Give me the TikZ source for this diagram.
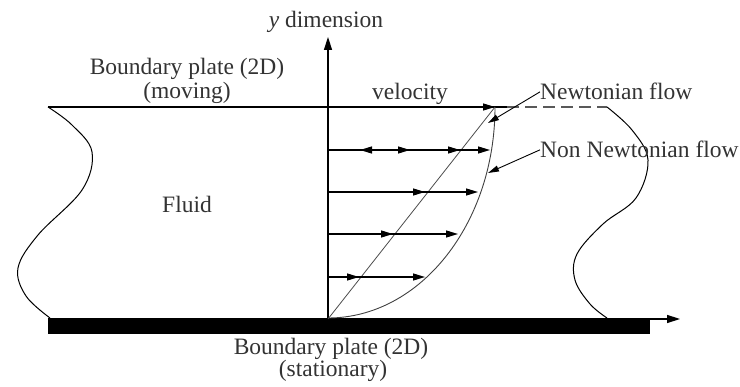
\documentclass[tikz,border=0pt]{standalone}
\usepackage{fontspec}
\setmainfont{Liberation Serif}
\usetikzlibrary{arrows.meta}
\begin{document}
\begin{tikzpicture}[x=1pt,y=-1pt,
  txt/.style={inner sep=0pt,text=black!80,font=\fontsize{23.5}{27}\selectfont},
  axis/.style={line width=1.5pt,-{Triangle[length=13pt,width=8pt]}},
  vel/.style={line width=1.3pt,-{Triangle[length=12pt,width=7pt]}},
  wavy/.style={line width=1pt},
  pointer/.style={line width=0.9pt,-{Triangle[length=11pt,width=6pt]}}]
\useasboundingbox (0,0) rectangle (740,387);
% coordinates
\coordinate (O) at (328,319);
\coordinate (Ytop) at (328,37);
\coordinate (TL) at (48,107);
\coordinate (TA) at (328,107);
\coordinate (Ttip) at (495,107);
\coordinate (Tend) at (507,107);
\coordinate (Dend) at (607,107);
\coordinate (Xtip) at (680,319);
% bottom plate
\fill[black] (48,318) rectangle (650,334);
\draw[axis] (48,319) -- (Xtip);
% y axis
\draw[axis] (O) -- (Ytop);
% top plate
\draw[line width=1.5pt] (TL) -- (Tend);
\draw[vel] (TA) -- (Ttip);
\draw[line width=1.1pt,black!65,dash pattern=on 12pt off 6pt] (Tend) -- (Dend);
% left wavy boundary
\draw[wavy] plot[smooth,tension=0.6] coordinates {(48,107) (72,125) (92,152) (82,190) (38,235) (18,268) (26,296) (50,318)};
% right wavy boundary
\draw[wavy] plot[smooth,tension=0.6] coordinates {(607,107) (632,130) (648,160) (636,198) (603,224) (577,254) (575,280) (590,304) (607,318)};
% Newtonian profile
\draw[line width=0.8pt,black!70] (O) -- (Ttip);
% Non-Newtonian profile
\draw[line width=0.9pt,black!75] (328,318) arc[start angle=270,end angle=360,x radius=167pt,y radius=211pt];
% velocity arrows
\draw[vel] (328,150) -- (490,150);
\draw[vel] (328,150) -- (460,150);
\draw[vel] (328,150) -- (410,150);
\draw[vel] (380,150) -- (360,150);
\draw[vel] (328,192) -- (478,192);
\draw[vel] (328,192) -- (425,192);
\draw[vel] (328,234) -- (458,234);
\draw[vel] (328,234) -- (393,234);
\draw[vel] (328,277) -- (425,277);
\draw[vel] (328,277) -- (359,277);
% labels
\node[txt,anchor=base] (ydim) at (326,28) {\textit{y} dimension};
\node[txt,anchor=base] (bp1) at (187,75) {Boundary plate (2D)};
\node[txt,anchor=base] (bp2) at (187,99) {(moving)};
\node[txt,anchor=base west] (velo) at (372,100) {velocity};
\node[txt,anchor=base] (fluid) at (187,213) {Fluid};
\node[txt,anchor=base west] (newt) at (540,100) {Newtonian flow};
\node[txt,anchor=base west] (nonnewt) at (540,158) {Non Newtonian flow};
\node[txt,anchor=base] (bs1) at (331,355) {Boundary plate (2D)};
\node[txt,anchor=base] (bs2) at (333,377) {(stationary)};
% pointers
\coordinate (pN) at (488,123);
\coordinate (pNN) at (488,173);
\draw[pointer] (newt.west) -- (pN);
\draw[pointer] (nonnewt.west) -- (pNN);
\end{tikzpicture}
\end{document}
